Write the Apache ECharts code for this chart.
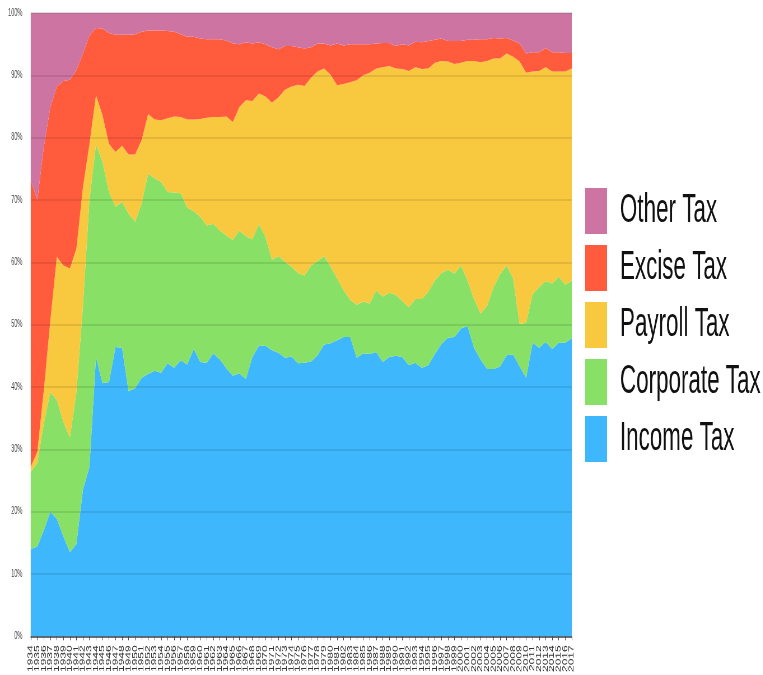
<!DOCTYPE html>
<html>
<head>
<meta charset="utf-8">
<script src="https://cdn.jsdelivr.net/npm/echarts@6/dist/echarts.min.js"></script>
<style>
  html, body { margin: 0; padding: 0; overflow: hidden; background: #fff; }
  /* the reference is a horizontally squeezed chart, so draw wide and squeeze */
  #chart { width: 1362px; height: 675px; transform: scaleX(0.56); transform-origin: 0 0; }
</style>
</head>
<body>
<div id="chart"></div>
<script>
const years = ['1934', '1935', '1936', '1937', '1938', '1939', '1940', '1941', '1942', '1943',
  '1944', '1945', '1946', '1947', '1948', '1949', '1950', '1951', '1952', '1953',
  '1954', '1955', '1956', '1957', '1958', '1959', '1960', '1961', '1962', '1963',
  '1964', '1965', '1966', '1967', '1968', '1969', '1970', '1971', '1972', '1973',
  '1974', '1975', '1976', '1977', '1978', '1979', '1980', '1981', '1982', '1983',
  '1984', '1985', '1986', '1987', '1988', '1989', '1990', '1991', '1992', '1993',
  '1994', '1995', '1996', '1997', '1998', '1999', '2000', '2001', '2002', '2003',
  '2004', '2005', '2006', '2007', '2008', '2009', '2010', '2011', '2012', '2013',
  '2014', '2015', '2016', '2017']

// share of total receipts, %
const incomeTax = [14.0, 14.4, 17.0, 20.0, 18.8, 16.0, 13.5, 14.8, 23.5, 27.2,
  44.8, 40.6, 40.8, 46.4, 46.3, 39.3, 39.8, 41.5, 42.1, 42.6,
  42.3, 43.8, 43.1, 44.3, 43.6, 46.1, 44.0, 43.9, 45.4, 44.4,
  43.0, 41.8, 42.2, 41.3, 44.8, 46.6, 46.6, 45.9, 45.5, 44.7,
  44.9, 43.8, 43.9, 44.1, 45.1, 46.8, 47.0, 47.5, 48.0, 48.0,
  44.7, 45.4, 45.3, 45.6, 44.0, 44.8, 45.0, 44.8, 43.5, 43.9,
  43.1, 43.5, 45.3, 46.9, 47.9, 48.0, 49.4, 49.8, 46.3, 44.4,
  42.9, 42.9, 43.3, 45.1, 45.2, 43.3, 41.5, 47.1, 46.3, 47.2,
  46.1, 47.1, 47.1, 47.8]
const corporateTax = [12.4, 13.4, 17.2, 19.2, 19.1, 18.4, 18.4, 24.4, 29.5, 42.8,
  34.1, 35.5, 30.5, 22.5, 23.4, 28.5, 26.7, 27.9, 32.1, 30.9,
  30.6, 27.5, 28.1, 26.8, 25.2, 22.1, 23.3, 22.0, 20.8, 20.7,
  21.3, 21.8, 22.9, 22.9, 18.9, 19.5, 17.5, 14.5, 15.5, 15.4,
  14.4, 14.5, 14.0, 15.4, 15.1, 14.2, 12.3, 9.9, 7.5, 6.0,
  8.5, 8.3, 8.1, 9.9, 10.5, 10.3, 9.8, 9.0, 9.3, 10.2,
  11.0, 11.8, 11.8, 11.4, 10.9, 10.2, 10.1, 7.3, 7.8, 7.4,
  10.1, 13.1, 14.8, 14.4, 12.2, 6.8, 8.8, 7.8, 9.7, 9.8,
  10.5, 10.6, 9.3, 9.3]
const payrollTax = [0.8, 1.8, 5.3, 11.5, 23.0, 25.1, 27.1, 23.0, 19.1, 9.0,
  7.9, 7.5, 7.7, 8.8, 9.0, 9.5, 10.8, 10.2, 9.6, 9.4,
  9.9, 11.8, 12.2, 12.2, 14.1, 14.7, 15.7, 17.3, 17.1, 18.2,
  19.1, 18.9, 19.8, 21.8, 22.2, 21.0, 22.5, 25.2, 25.5, 27.6,
  28.9, 30.2, 30.4, 30.1, 30.4, 30.1, 30.8, 31.0, 33.1, 34.9,
  36.0, 36.3, 37.0, 35.6, 36.8, 36.4, 36.3, 37.2, 37.9, 37.2,
  36.9, 35.8, 34.9, 34.0, 33.4, 33.6, 32.5, 35.2, 38.2, 40.3,
  39.3, 36.7, 34.6, 34.0, 35.6, 42.1, 40.1, 35.7, 34.7, 34.3,
  34.0, 32.9, 34.2, 34.0]
const exciseTax = [46.0, 40.4, 39.0, 34.2, 27.3, 29.6, 30.3, 28.6, 21.4, 17.4,
  10.8, 13.9, 17.8, 18.8, 17.8, 19.2, 19.3, 17.4, 13.4, 14.3,
  14.4, 14.0, 13.6, 13.3, 13.3, 13.3, 12.9, 12.6, 12.5, 12.5,
  12.2, 12.6, 10.1, 9.3, 9.2, 8.2, 8.4, 8.9, 7.7, 7.0,
  6.5, 6.0, 6.0, 4.9, 4.5, 4.0, 4.7, 6.7, 6.2, 6.1,
  5.8, 5.0, 4.6, 4.0, 3.9, 3.7, 3.6, 4.0, 4.1, 4.1,
  4.3, 4.4, 3.7, 3.6, 3.3, 3.7, 3.5, 3.4, 3.4, 3.7,
  3.5, 3.3, 3.2, 2.5, 2.6, 2.9, 3.1, 3.1, 3.0, 3.1,
  3.1, 3.1, 3.0, 2.5]
const otherTax = [26.8, 30.0, 21.5, 15.1, 11.8, 10.9, 10.7, 9.2, 6.5, 3.6,
  2.4, 2.5, 3.2, 3.5, 3.5, 3.5, 3.4, 3.0, 2.8, 2.8,
  2.8, 2.9, 3.0, 3.4, 3.8, 3.8, 4.1, 4.2, 4.2, 4.2,
  4.4, 4.9, 5.0, 4.7, 4.9, 4.7, 5.0, 5.5, 5.8, 5.3,
  5.3, 5.5, 5.7, 5.5, 4.9, 4.9, 5.2, 4.9, 5.2, 5.0,
  5.0, 5.0, 5.0, 4.9, 4.8, 4.8, 5.3, 5.0, 5.2, 4.6,
  4.7, 4.5, 4.3, 4.1, 4.5, 4.5, 4.5, 4.3, 4.3, 4.2,
  4.2, 4.0, 4.1, 4.0, 4.4, 4.9, 6.5, 6.3, 6.3, 5.6,
  6.3, 6.3, 6.4, 6.4]

const seriesNames = ['Income Tax', 'Corporate Tax', 'Payroll Tax', 'Excise Tax', 'Other Tax']
const seriesColors = ['#3fb7fd', '#88e066', '#f8c93f', '#ff5b3c', '#cd74a2']
const seriesData = [incomeTax, corporateTax, payrollTax, exciseTax, otherTax]

const FONT = '"Liberation Sans", Arial, Helvetica, sans-serif'

const options = {
  animation: false,
  color: seriesColors,
  grid: {
    left: 55,
    right: 341,
    top: 13,
    bottom: 38,
    show: true,
    borderColor: '#e2e2e2',
    borderWidth: 1,
  },
  legend: {
    orient: 'vertical',
    left: 1045,
    top: 188,
    padding: 0,
    icon: 'rect',
    itemWidth: 39,
    itemHeight: 46,
    itemGap: 11,
    data: ['Other Tax', 'Excise Tax', 'Payroll Tax', 'Corporate Tax', 'Income Tax'],
    textStyle: {
      fontFamily: FONT,
      fontSize: 40,
      lineHeight: 40,
      color: '#111',
      padding: [6, 0, 0, 18],
    },
  },
  xAxis: {
    type: 'category',
    boundaryGap: false,
    data: years,
    axisLine: { lineStyle: { color: '#3d4650', width: 1.5 } },
    axisTick: { interval: 0, length: 4, lineStyle: { color: '#3d4650' } },
    axisLabel: {
      interval: 0,
      rotate: 90,
      margin: 9,
      fontFamily: FONT,
      fontSize: 12,
      color: '#333',
    },
    z: 10,
  },
  yAxis: {
    type: 'value',
    min: 0,
    max: 100,
    interval: 10,
    axisLine: { show: false },
    axisTick: { show: false },
    axisLabel: {
      formatter: '{value}%',
      margin: 15,
      fontFamily: FONT,
      fontSize: 10,
      color: '#444',
    },
    splitLine: { lineStyle: { color: 'rgba(0,0,0,0.09)', width: 2 } },
    z: 10,
  },
  series: seriesNames.map((name, i) => ({
    name: name,
    type: 'line',
    stack: 'total',
    data: seriesData[i],
    showSymbol: false,
    lineStyle: { width: 0 },
    areaStyle: { opacity: 1, color: seriesColors[i] },
    emphasis: { disabled: true },
  })),
}

const chart = echarts.init(document.getElementById('chart'))
chart.setOption(options)
</script>
</body>
</html>
